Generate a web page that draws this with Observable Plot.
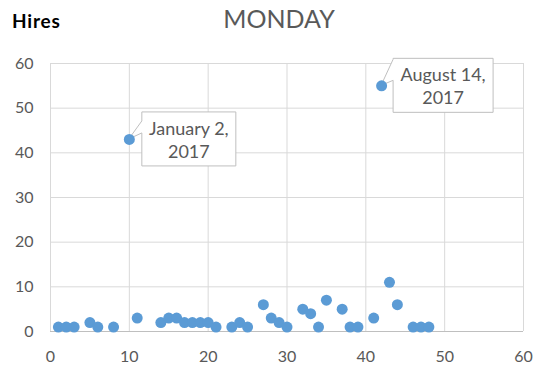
<!DOCTYPE html>
<html>
<head>
<meta charset="utf-8">
<script src="https://cdn.jsdelivr.net/npm/d3@7"></script>
<script src="https://cdn.jsdelivr.net/npm/@observablehq/plot@0.6"></script>
<style>
  body { margin: 0; background: #fff; }
  #chart { position: relative; width: 533px; height: 367px; font-family: Lato, "Open Sans", sans-serif; }
  #ylabel { position: absolute; left: 12px; top: 9px; font-weight: bold; font-size: 19px; letter-spacing: 0.8px; color: #000; }
  #title { position: absolute; left: 0; width: 558px; top: 3px; text-align: center; font-size: 25px; color: #595959; }
  #chart svg { position: absolute; left: 0; top: 0; }
</style>
</head>
<body>
<div id="chart">
  <div id="ylabel">Hires</div>
  <div id="title">MONDAY</div>
</div>
<script>
// Day of the month (x) and number of hires (y)
const day   = [1, 2, 3, 5, 6, 8, 10, 11, 14, 15, 16, 17, 18, 19, 20, 21, 23, 24, 25, 27, 28, 29, 30, 32, 33, 34, 35, 37, 38, 39, 41, 42, 43, 44, 46, 47, 48];
const hires = [1, 1, 1, 2, 1, 1, 43, 3, 2, 3, 3, 2, 2, 2, 2, 1, 1, 2, 1, 6, 3, 2, 1, 5, 4, 1, 7, 5, 1, 1, 3, 55, 11, 6, 1, 1, 1];

const xTicks = [0, 10, 20, 30, 40, 50, 60];
const yTicks = [0, 10, 20, 30, 40, 50, 60];

// Annotated points
const calloutDay  = [10, 42];
const calloutText = [["January 2,", "2017"], ["August 14,", "2017"]];

const points = day.map((d, i) => ({day: d, hires: hires[i]}));

// Label box layout: gap from the point, box width, and where the tail meets the box edge
const calloutGap = [13, 12];
const calloutWidth = [94, 100];
const calloutTail = [[9, 21], [1, 22]];

// Label boxes with a small tail pointing back at their point
function callouts(index, scales) {
  const {x, y} = scales;
  const g = d3.create("svg:g");
  calloutDay.forEach((d, i) => {
    const px = x(d), py = y(hires[day.indexOf(d)]);
    const w = calloutWidth[i], h = 54;
    const bx = px + calloutGap[i], by = py - h / 2;
    const t1 = by + calloutTail[i][0], t2 = by + calloutTail[i][1];
    g.append("path")
      .attr("d", `M${bx},${by}H${bx + w}V${by + h}H${bx}V${t2}L${px},${py}L${bx},${t1}Z`)
      .attr("fill", "#fff")
      .attr("stroke", "#bfbfbf")
      .attr("stroke-width", 1);
    const txt = g.append("text")
      .attr("text-anchor", "middle")
      .attr("fill", "#595959")
      .attr("font-size", 18);
    calloutText[i].forEach((line, j) => {
      txt.append("tspan")
        .attr("x", bx + w / 2)
        .attr("y", by + 23 + j * 23)
        .text(line);
    });
  });
  return g.node();
}

const chart = Plot.plot({
  width: 533,
  height: 367,
  marginLeft: 50,
  marginRight: 10,
  marginTop: 63,
  marginBottom: 36,
  style: {fontSize: "16px", fontFamily: "Lato, 'Open Sans', sans-serif", color: "#595959", background: "transparent"},
  x: {domain: [0, 60], ticks: xTicks, tickSize: 0, tickPadding: 19, label: null},
  y: {domain: [0, 60], ticks: yTicks, tickSize: 0, tickPadding: 17, label: null},
  marks: [
    Plot.ruleX(xTicks, {stroke: "#d9d9d9"}),
    Plot.ruleY(yTicks, {stroke: "#d9d9d9"}),
    Plot.ruleY([0], {stroke: "#bfbfbf"}),
    callouts,
    Plot.dot(points, {x: "day", y: "hires", r: 5.5, fill: "#5b9bd5", stroke: "none"})
  ]
});

document.getElementById("chart").appendChild(chart);
</script>
</body>
</html>
